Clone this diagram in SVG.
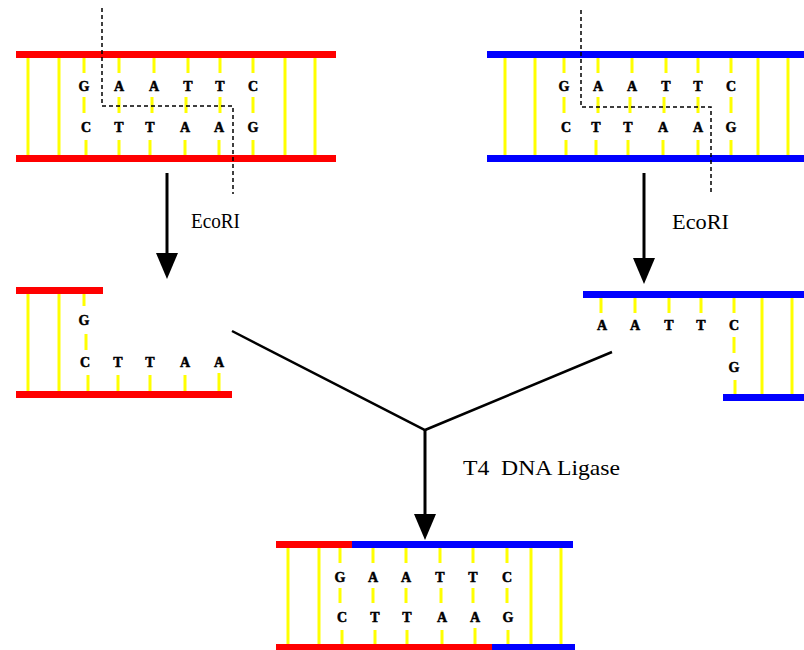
<svg xmlns="http://www.w3.org/2000/svg" width="804" height="650" viewBox="0 0 804 650">
  <defs>
    <style>
      .red { fill: #ff0000; }
      .blue { fill: #0000ff; }
      .bp { stroke: #ffff00; stroke-width: 3; }
      .base { font-family: "Liberation Serif", "Times New Roman", serif; font-weight: bold; font-size: 14px; fill: #000; stroke: #000; stroke-width: 0.5; text-anchor: middle; }
      .label { font-family: "Liberation Serif", "Times New Roman", serif; font-size: 21px; fill: #000; }
      .cut { fill: none; stroke: #000; stroke-width: 1.5; stroke-dasharray: 4 3; }
      .flow { fill: none; stroke: #000; stroke-width: 3; }
      .join { fill: none; stroke: #000; stroke-width: 2.5; }
    </style>
    <marker id="head" markerUnits="userSpaceOnUse" markerWidth="26" markerHeight="22" refX="12" refY="11" orient="auto">
      <path d="M0,0 L26,11 L0,22 z" fill="#000"/>
    </marker>
  </defs>
  <rect width="804" height="650" fill="#fff"/>

  <!-- red duplex with EcoRI site -->
  <g id="dna-red">
    <g class="bp">
      <line x1="28" y1="58" x2="28" y2="155"/>
      <line x1="59" y1="58" x2="59" y2="155"/>
      <line x1="285" y1="58" x2="285" y2="155"/>
      <line x1="315" y1="58" x2="315" y2="155"/>
      <path d="M84 58V73M84 97V113M86 140V155
               M119 58V73M119 97V113M119 140V155
               M154 58V73M152 97V113M150 140V155
               M188 58V73M186 97V113M185 140V155
               M220 58V73M220 97V113M219 140V155
               M253 58V73M253 97V113M253 140V155"/>
    </g>
    <rect class="red" x="16" y="51" width="320" height="7"/>
    <rect class="red" x="16" y="155" width="320" height="7"/>
    <g class="base">
      <text x="84" y="91">G</text><text x="119" y="91">A</text><text x="154" y="91">A</text>
      <text x="188" y="91">T</text><text x="220" y="91">T</text><text x="253" y="91">C</text>
      <text x="86" y="132">C</text><text x="119" y="132">T</text><text x="150" y="132">T</text>
      <text x="185" y="132">A</text><text x="219" y="132">A</text><text x="253" y="132">G</text>
    </g>
    <path class="cut" d="M102 8V106H233V194"/>
  </g>

  <!-- blue duplex with EcoRI site -->
  <g id="dna-blue">
    <g class="bp">
      <line x1="505" y1="58" x2="505" y2="155"/>
      <line x1="535" y1="58" x2="535" y2="155"/>
      <line x1="758" y1="58" x2="758" y2="155"/>
      <line x1="788" y1="58" x2="788" y2="155"/>
      <path d="M564 58V73M564 97V113M566 140V155
               M598 58V73M598 97V113M596 140V155
               M632 58V73M630 97V113M628 140V155
               M666 58V73M664 97V113M663 140V155
               M698 58V73M698 97V113M698 140V155
               M731 58V73M731 97V113M731 140V155"/>
    </g>
    <rect class="blue" x="487" y="51" width="317" height="7"/>
    <rect class="blue" x="487" y="155" width="317" height="7"/>
    <g class="base">
      <text x="564" y="91">G</text><text x="598" y="91">A</text><text x="632" y="91">A</text>
      <text x="666" y="91">T</text><text x="698" y="91">T</text><text x="731" y="91">C</text>
      <text x="566" y="132">C</text><text x="596" y="132">T</text><text x="628" y="132">T</text>
      <text x="663" y="132">A</text><text x="698" y="132">A</text><text x="731" y="132">G</text>
    </g>
    <path class="cut" d="M581 10V107H711V195"/>
  </g>

  <!-- red fragment with AATT overhang -->
  <g id="frag-red">
    <g class="bp">
      <line x1="28" y1="294" x2="28" y2="391"/>
      <line x1="59" y1="294" x2="59" y2="391"/>
      <path d="M84 294V306M86 334V350M88 375V391
               M118 375V391M150 375V391M185 375V391M219 373V391"/>
    </g>
    <rect class="red" x="16" y="287" width="87" height="7"/>
    <rect class="red" x="16" y="391" width="216" height="7"/>
    <g class="base">
      <text x="84" y="325">G</text>
      <text x="85" y="367">C</text><text x="118" y="367">T</text><text x="150" y="367">T</text>
      <text x="185" y="367">A</text><text x="219" y="367">A</text>
    </g>
  </g>

  <!-- blue fragment with AATT overhang -->
  <g id="frag-blue">
    <g class="bp">
      <line x1="762" y1="298" x2="762" y2="394"/>
      <line x1="792" y1="298" x2="792" y2="394"/>
      <path d="M601 298V313M635 298V313M669 298V313M701 298V313M734 298V313
               M734 337V353M735 380V394"/>
    </g>
    <rect class="blue" x="583" y="291" width="221" height="7"/>
    <rect class="blue" x="723" y="394" width="81" height="7"/>
    <g class="base">
      <text x="602" y="330">A</text><text x="635" y="330">A</text><text x="669" y="330">T</text>
      <text x="701" y="330">T</text><text x="734" y="330">C</text>
      <text x="734" y="372">G</text>
    </g>
  </g>

  <!-- ligated recombinant duplex -->
  <g id="dna-ligated">
    <g class="bp">
      <line x1="288" y1="548" x2="288" y2="644"/>
      <line x1="319" y1="548" x2="319" y2="644"/>
      <line x1="531" y1="548" x2="531" y2="644"/>
      <line x1="561" y1="548" x2="561" y2="644"/>
      <path d="M340 548V563M340 588V603M342 630V644
               M373 548V563M373 588V603M375 630V644
               M406 548V563M406 588V603M407 630V644
               M440 548V563M441 588V603M442 630V644
               M473 548V563M473 588V603M475 628V644
               M507 548V563M507 588V603M508 630V644"/>
    </g>
    <rect class="red" x="276" y="541" width="76" height="7"/>
    <rect class="blue" x="352" y="541" width="221" height="7"/>
    <rect class="red" x="276" y="644" width="216" height="7"/>
    <rect class="blue" x="492" y="644" width="83" height="7"/>
    <g class="base">
      <text x="340" y="582">G</text><text x="373" y="582">A</text><text x="406" y="582">A</text>
      <text x="440" y="582">T</text><text x="473" y="582">T</text><text x="507" y="582">C</text>
      <text x="342" y="622">C</text><text x="375" y="622">T</text><text x="407" y="622">T</text>
      <text x="442" y="622">A</text><text x="475" y="622">A</text><text x="508" y="622">G</text>
    </g>
  </g>

  <!-- reaction arrows -->
  <g id="connectors">
    <line class="flow" x1="167" y1="173" x2="167" y2="265" marker-end="url(#head)"/>
    <line class="flow" x1="644" y1="173" x2="644" y2="270" marker-end="url(#head)"/>
    <polyline class="join" points="232,331 425,430 612,352"/>
    <line class="flow" x1="425" y1="429" x2="425" y2="526" marker-end="url(#head)"/>
  </g>

  <g id="labels">
    <text class="label" x="191" y="228" textLength="49" lengthAdjust="spacingAndGlyphs">EcoRI</text>
    <text class="label" x="672" y="229" textLength="57" lengthAdjust="spacingAndGlyphs">EcoRI</text>
    <text class="label" x="463" y="475" textLength="157" lengthAdjust="spacingAndGlyphs" xml:space="preserve">T4  DNA Ligase</text>
  </g>
</svg>
